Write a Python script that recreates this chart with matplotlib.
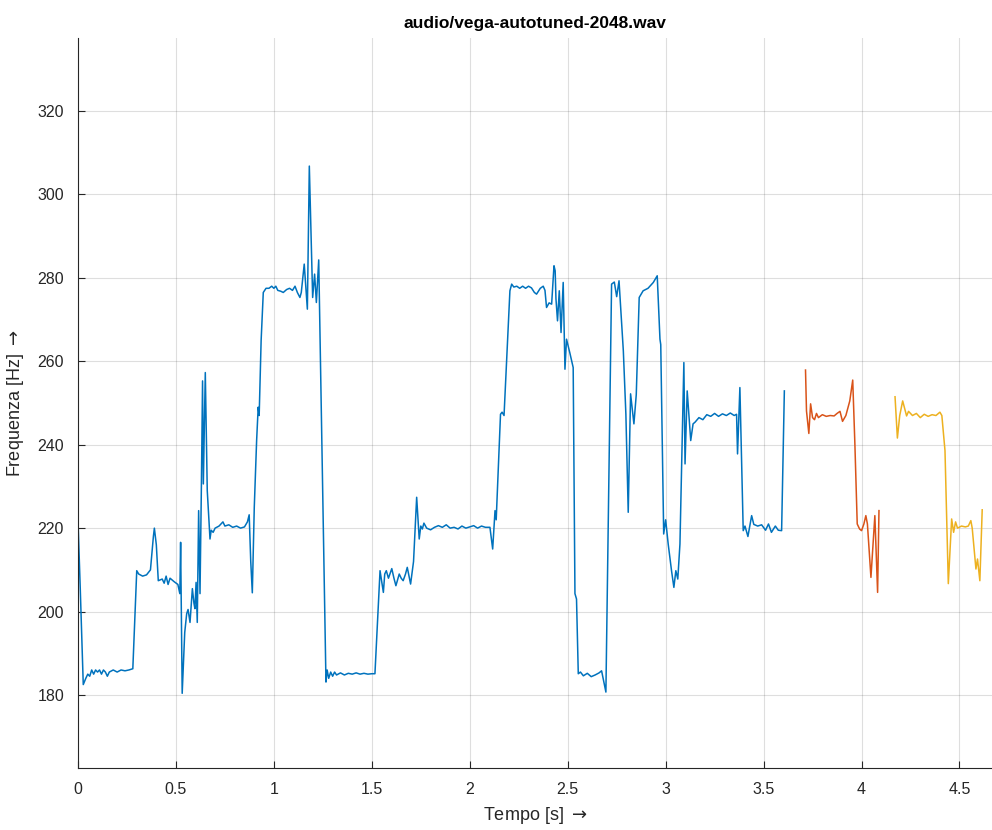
import matplotlib
matplotlib.use("Agg")
import matplotlib.pyplot as plt
import numpy as np

plt.rcParams['font.family'] = ['Liberation Sans', 'DejaVu Sans']

# frequency track, segment 1 (blue)
t1 = [0.000, 0.012, 0.027, 0.04, 0.05, 0.06, 0.07, 0.08, 0.09, 0.10, 0.11, 0.12, 0.13, 0.14, 0.15,
      0.16, 0.18, 0.20, 0.22, 0.24, 0.26, 0.28, 0.30, 0.31, 0.33, 0.35, 0.37, 0.385, 0.39, 0.40,
      0.41, 0.43, 0.44, 0.45, 0.46, 0.47, 0.49, 0.51, 0.52, 0.524, 0.532, 0.545, 0.555, 0.562, 0.572,
      0.584, 0.592, 0.597, 0.603, 0.609, 0.616, 0.623, 0.630, 0.636, 0.640, 0.650, 0.660, 0.674, 0.68,
      0.69, 0.70, 0.72, 0.74, 0.75, 0.77, 0.79, 0.81, 0.83, 0.85, 0.865, 0.874, 0.882, 0.89, 0.90,
      0.912, 0.92, 0.925, 0.935, 0.946, 0.96, 0.975, 0.989, 1.0, 1.01, 1.02, 1.035, 1.048, 1.065,
      1.08, 1.095, 1.108, 1.12, 1.133, 1.14, 1.155, 1.171, 1.181, 1.198, 1.208, 1.217, 1.229, 1.266,
      1.272, 1.28, 1.29, 1.30, 1.31, 1.32, 1.34, 1.36, 1.38, 1.40, 1.42, 1.44, 1.46, 1.48, 1.50,
      1.516, 1.542, 1.559, 1.566, 1.574, 1.585, 1.602, 1.613, 1.623, 1.64, 1.65, 1.66, 1.672, 1.681,
      1.698, 1.713, 1.729, 1.742, 1.750, 1.758, 1.766, 1.78, 1.80, 1.82, 1.84, 1.86, 1.88, 1.90,
      1.92, 1.94, 1.96, 1.98, 2.00, 2.02, 2.04, 2.06, 2.08, 2.103, 2.117, 2.129, 2.135, 2.157, 2.165,
      2.175, 2.205, 2.214, 2.225, 2.24, 2.255, 2.27, 2.285, 2.30, 2.315, 2.33, 2.341, 2.36, 2.375,
      2.384, 2.392, 2.405, 2.418, 2.43, 2.436, 2.44, 2.448, 2.457, 2.466, 2.477, 2.486, 2.494, 2.511,
      2.528, 2.537, 2.545, 2.554, 2.565, 2.58, 2.60, 2.62, 2.64, 2.66, 2.673, 2.695, 2.724, 2.738,
      2.75, 2.762, 2.784, 2.797, 2.809, 2.821, 2.838, 2.85, 2.865, 2.885, 2.91, 2.937, 2.957, 2.971,
      2.975, 2.99, 3.0, 3.013, 3.03, 3.042, 3.052, 3.062, 3.073, 3.093, 3.099, 3.11, 3.128, 3.14,
      3.15, 3.17, 3.19, 3.21, 3.23, 3.25, 3.27, 3.29, 3.31, 3.33, 3.35, 3.362, 3.367, 3.379, 3.396,
      3.405, 3.42, 3.439, 3.45, 3.47, 3.49, 3.51, 3.525, 3.54, 3.56, 3.575, 3.592, 3.606]
f1 = [222, 205, 182.5, 184, 185, 184.5, 186, 185, 186, 185.5, 186, 185, 186, 185.5, 184.5,
      185.5, 186, 185.5, 186, 185.8, 186, 186.3, 209.8, 209, 208.5, 208.8, 210, 218, 220, 216,
      207.4, 207.8, 206.8, 208.5, 206.5, 208, 207.2, 206.5, 204.3, 216.6, 180.4, 195, 199.5, 200.5, 197.4,
      205.5, 202, 200.7, 207, 197.4, 224.2, 204.3, 230, 255.3, 230.6, 257.3, 229, 217.4, 219.5,
      219, 220, 220.5, 221.5, 220.5, 220.8, 220.2, 220.5, 220, 220.3, 221.5, 223.2, 212, 204.5, 225,
      241, 249, 247, 265, 276.5, 277.5, 277.5, 278, 277.5, 278, 277, 276.8, 276.5, 277.2,
      277.5, 277, 278, 276.5, 275.3, 276.5, 283.3, 272.5, 306.8, 275.3, 280.9, 274.1, 284.3, 183.1,
      186, 184, 185.5, 184.5, 185.5, 184.8, 185.3, 184.8, 185.2, 185, 185.3, 185, 185.2, 185, 185.1,
      185.1, 209.8, 204.6, 209, 209.8, 208, 210.3, 208, 206.2, 209, 208, 207.4, 209, 210.6,
      206.6, 212, 227.4, 217.4, 220.5, 219.8, 221.2, 220, 219.6, 220.2, 220.6, 220.2, 220.8, 220,
      220.2, 219.8, 220.5, 220, 220.3, 220.6, 220, 220.5, 220.2, 220.2, 215, 224.2, 222, 247.3, 247.8,
      247, 276.9, 278.5, 277.8, 278, 277.5, 278, 277.5, 278, 277.6, 276.5, 276.1, 277.5, 278,
      277, 272.9, 274, 273.7, 282.9, 281.7, 275, 269.7, 276.9, 266.9, 278.9, 258.1, 265.3, 262,
      258.5, 204.3, 203, 185.1, 185.5, 184.6, 185.2, 184.4, 184.8, 185.3, 185.8, 180.7, 278.5, 279,
      275.5, 279.3, 262.5, 247.3, 223.8, 252.2, 245, 252, 275.3, 276.9, 277.5, 278.9, 280.5, 265.3,
      264, 218.6, 222, 216.2, 209.8, 205.8, 209.8, 207.8, 216.2, 259.7, 235.4, 252.9, 241, 245,
      245.4, 246.5, 246, 247.2, 246.8, 247.5, 246.8, 247.4, 247, 247.6, 247, 247.3, 237.8, 253.7, 219.4,
      220.5, 218, 223, 220.9, 220.5, 220.8, 219.5, 221, 219, 220.5, 219.5, 219.4, 252.9]

# segment 2 (orange)
t2 = [3.714, 3.719, 3.731, 3.74, 3.75, 3.76, 3.77, 3.78, 3.80, 3.82, 3.84, 3.86, 3.875, 3.89,
      3.903, 3.92, 3.94, 3.955, 3.966, 3.978, 3.99, 4.0, 4.012, 4.022, 4.03, 4.048, 4.068, 4.082, 4.089]
f2 = [257.9, 248.1, 242.7, 249.8, 246.5, 246, 247.5, 246.5, 247.2, 246.8, 247, 246.9, 247.5, 248,
      245.6, 247, 250.5, 255.5, 240.2, 221, 219.8, 219.4, 221, 223, 221, 208.2, 223, 204.6, 224.2]

# segment 3 (yellow)
t3 = [4.171, 4.183, 4.195, 4.21, 4.23, 4.24, 4.26, 4.28, 4.30, 4.32, 4.34, 4.36, 4.38, 4.40,
      4.41, 4.426, 4.443, 4.46, 4.47, 4.48, 4.49, 4.51, 4.53, 4.545, 4.558, 4.565, 4.584, 4.592,
      4.604, 4.616]
f3 = [251.5, 241.6, 247, 250.5, 246.9, 248, 247, 247.5, 246.5, 247.3, 246.8, 247.2, 247, 247.8,
      247, 238.6, 206.7, 222.2, 219, 221.5, 220, 220.5, 220.3, 220.5, 221.8, 220, 210.2, 212.6,
      207.4, 224.4]

xticks = np.arange(0, 4.51, 0.5)
xticklabels = ['0', '0.5', '1', '1.5', '2', '2.5', '3', '3.5', '4', '4.5']
yticks = np.arange(180, 321, 20)

dark = '#262626'
fig = plt.figure(figsize=(9.92, 8.3), dpi=100)
ax = fig.add_axes([0.0786, 0.0747, 0.9214, 0.8795])

ax.plot(t1, f1, color='#0072BD', lw=1.1)
ax.plot(t2, f2, color='#D95319', lw=1.1)
ax.plot(t3, f3, color='#EDB120', lw=1.1)

ax.set_xlim(0, 4.666)
ax.set_ylim(162.5, 337.5)
ax.set_xticks(xticks)
ax.set_xticklabels(xticklabels)
ax.set_yticks(yticks)
ax.grid(True, color=dark, alpha=0.15, lw=0.8)
ax.tick_params(direction='in', length=5, width=0.8, colors=dark, labelsize=11.5, pad=10)
for s in ['top', 'right']:
    ax.spines[s].set_visible(False)
for s in ['left', 'bottom']:
    ax.spines[s].set_color(dark)
    ax.spines[s].set_linewidth(0.8)

ax.set_xlabel('Tempo [s] $\\rightarrow$', fontsize=13, color=dark, labelpad=6)
ax.set_ylabel('Frequenza [Hz] $\\rightarrow$', fontsize=13, color=dark, labelpad=8)
ax.set_title('audio/vega-autotuned-2048.wav', fontsize=12.5, fontweight='bold', color='black', pad=7)

fig.savefig('out.png', dpi=100)
